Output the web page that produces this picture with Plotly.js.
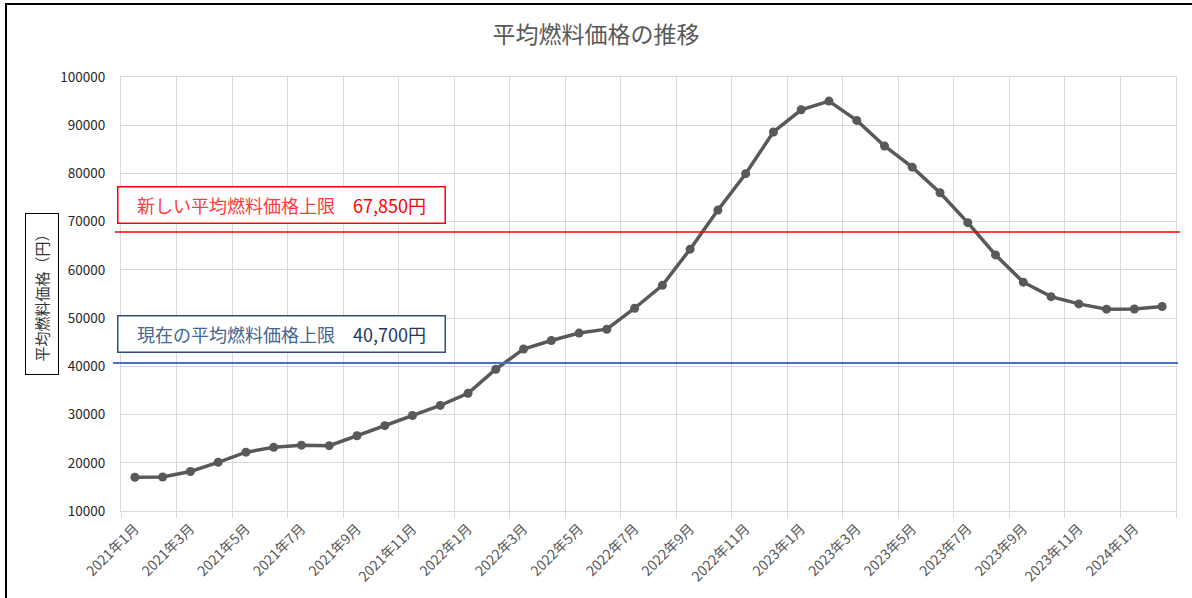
<!DOCTYPE html>
<html>
<head>
<meta charset="utf-8">
<script src="https://cdn.plot.ly/plotly-3.0.1.min.js"></script>
<style>
  html, body { margin: 0; padding: 0; background: #fff; overflow: hidden; }
  #chart { width: 1192px; height: 598px; }
  #frame { position: absolute; left: 5px; top: 3px; width: 1400px; height: 800px;
           border: 2px solid #000; pointer-events: none; }
</style>
</head>
<body>
<div id="chart"></div>
<div id="frame"></div>
<script>
// ---- data ----
const months = [
  "2021年1月","2021年2月","2021年3月","2021年4月","2021年5月","2021年6月",
  "2021年7月","2021年8月","2021年9月","2021年10月","2021年11月","2021年12月",
  "2022年1月","2022年2月","2022年3月","2022年4月","2022年5月","2022年6月",
  "2022年7月","2022年8月","2022年9月","2022年10月","2022年11月","2022年12月",
  "2023年1月","2023年2月","2023年3月","2023年4月","2023年5月","2023年6月",
  "2023年7月","2023年8月","2023年9月","2023年10月","2023年11月","2023年12月",
  "2024年1月","2024年2月"
];
const avgFuelPrice = [
  17000, 17050, 18200, 20100, 22200, 23200,
  23650, 23550, 25600, 27700, 29800, 31900,
  34400, 39400, 43600, 45350, 46900, 47700,
  52050, 56800, 64300, 72400, 79950, 88600,
  93200, 95000, 91000, 85700, 81300, 76000,
  69800, 63100, 57450, 54450, 52950, 51850,
  51900, 52400
];
const newCap = 67850;
const currentCap = 40700;
const chartTitle = "平均燃料価格の推移";
const yTitle = "平均燃料価格（円）";
const newCapLabel = "新しい平均燃料価格上限";
const currentCapLabel = "現在の平均燃料価格上限";

// ---- derived ----
const xIdx = months.map((_, i) => i);
const tickIdx = xIdx.filter(i => i % 2 === 0);
const tickText = tickIdx.map(i => months[i]);
const fmt = v => v.toLocaleString("en-US");

const FONT = '"Noto Sans CJK JP", "Noto Sans", sans-serif';
const GRID = "#D9D9D9";

const trace = {
  x: xIdx,
  y: avgFuelPrice,
  type: "scatter",
  mode: "lines+markers",
  line: { color: "#595959", width: 3.5 },
  marker: { color: "#595959", size: 9 },
  hoverinfo: "y",
  showlegend: false
};

const layout = {
  width: 1192,
  height: 598,
  margin: { l: 121, r: 16, t: 77, b: 87 },
  paper_bgcolor: "#fff",
  plot_bgcolor: "#fff",
  font: { family: FONT, color: "#595959" },
  title: {
    text: chartTitle,
    font: { family: FONT, size: 23, color: "#595959" },
    x: 0.5, xref: "container",
    y: 1 - 34.5 / 598, yref: "container", yanchor: "middle"
  },
  xaxis: {
    range: [-0.5, months.length - 0.5],
    tickmode: "array",
    tickvals: tickIdx,
    ticktext: tickText,
    tickangle: -45,
    ticks: "",
    showgrid: false,
    zeroline: false,
    showline: true, mirror: true, linecolor: GRID, linewidth: 1,
    tickfont: { family: FONT, size: 14, color: "#595959" },
    ticklabelstandoff: 3,
    minor: {
      tick0: -0.5, dtick: 2,
      showgrid: true, gridcolor: GRID, gridwidth: 1,
      ticks: "outside", ticklen: 6, tickcolor: GRID, tickwidth: 1
    },
    fixedrange: true
  },
  yaxis: {
    range: [10000, 100000],
    dtick: 10000,
    tick0: 0,
    tickformat: "d",
    showgrid: true, gridcolor: GRID, gridwidth: 1,
    zeroline: false,
    showline: true, mirror: true, linecolor: GRID, linewidth: 1,
    ticks: "",
    ticklabelstandoff: 12,
    tickfont: { family: FONT, size: 13.5, color: "#262626" },
    fixedrange: true
  },
  shapes: [
    { type: "line", xref: "paper", yref: "y",
      x0: -0.0057, x1: 1.0038, y0: newCap, y1: newCap,
      line: { color: "#FF0000", width: 1.5 }, layer: "above" },
    { type: "line", xref: "paper", yref: "y",
      x0: -0.0076, x1: 1.0019, y0: currentCap, y1: currentCap,
      line: { color: "#4472C4", width: 2 }, layer: "above" }
  ],
  annotations: [
    { xref: "paper", yref: "paper", x: 0.1526, y: 0.705,
      xanchor: "center", yanchor: "middle", showarrow: false,
      text: `<span style="color:#FF3B3B">${newCapLabel}</span>　<span style="color:#FF0000">${fmt(newCap)}円</span>`,
      font: { family: FONT, size: 18, color: "#FF0000" },
      width: 322, height: 31, align: "center", valign: "middle",
      bgcolor: "#fff", bordercolor: "#FF0000", borderwidth: 1.5, borderpad: 2 },
    { xref: "paper", yref: "paper", x: 0.1521, y: 0.4067,
      xanchor: "center", yanchor: "middle", showarrow: false,
      text: `<span style="color:#44658F">${currentCapLabel}</span>　<span style="color:#1F3864">${fmt(currentCap)}円</span>`,
      font: { family: FONT, size: 18, color: "#1F3864" },
      width: 322, height: 31, align: "center", valign: "middle",
      bgcolor: "#fff", bordercolor: "#2E4F7A", borderwidth: 1.5, borderpad: 2 },
    { xref: "paper", yref: "paper", x: -0.0749, y: 0.5,
      xanchor: "center", yanchor: "middle", showarrow: false,
      text: yTitle, textangle: -90,
      font: { family: FONT, size: 15, color: "#333333" },
      width: 150, height: 22, align: "center", valign: "middle",
      bgcolor: "#fff", bordercolor: "#000", borderwidth: 1, borderpad: 5 }
  ]
};

Plotly.newPlot("chart", [trace], layout, { displayModeBar: false, staticPlot: true });
</script>
</body>
</html>
